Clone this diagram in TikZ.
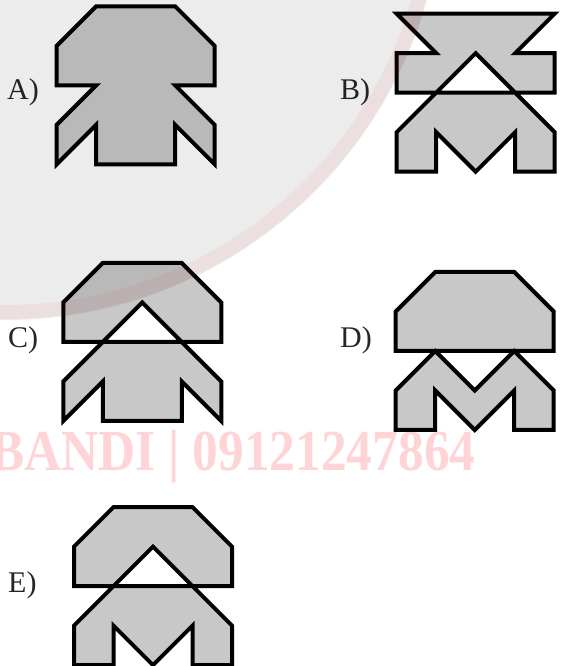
\documentclass[tikz,border=0pt]{standalone}
\usepackage{fontspec}
\setmainfont{Liberation Serif}
\usepackage{graphicx}
\usepackage{tikz}
\definecolor{piezaGris}{RGB}{200,200,200}
\definecolor{marcaRosa}{RGB}{255,212,214}
\tikzset{
  pieza/.style={draw=black, fill=piezaGris, even odd rule, line width=4pt, line join=miter},
  letra/.style={anchor=base west, inner sep=0pt, text=black!85, font=\fontsize{30}{36}\selectfont}
}

\begin{document}
\begin{tikzpicture}[x=1pt, y=1pt]
  \useasboundingbox (0,0) rectangle (563,666);
  \clip (0,0) rectangle (563,666);
  \fill[white] (0,0) rectangle (563,666);
  % marca de agua
  \node[anchor=base west, inner sep=0pt, text=marcaRosa, font=\fontsize{58}{60}\selectfont\bfseries] (marca) at (-10,195) {\scalebox{0.886}[1]{BANDI | 09121247864}};

  % A
  \draw[pieza, shift={(56.7,501.7)}, scale=39.5] (1,4) -- (3,4) -- (4,3) -- (4,2) -- (3,2) -- (4,1) -- (4,0) -- (3,1) -- (3,0) -- (1,0) -- (1,1) -- (0,0) -- (0,1) -- (1,2) -- (0,2) -- (0,3) -- cycle;
  % B
  \draw[pieza, shift={(396.7,494.3)}, scale=39.5] (0,4) -- (4,4) -- (3,3) -- (4,3) -- (4,2) -- (0,2) -- (0,3) -- (1,3) -- cycle
    (2,3) -- (4,1) -- (4,0) -- (3,0) -- (3,1) -- (2,0) -- (1,1) -- (1,0) -- (0,0) -- (0,1) -- cycle;
  % C
  \draw[pieza, shift={(63.3,245)}, scale=39.5] (1,4) -- (3,4) -- (4,3) -- (4,2) -- (0,2) -- (0,3) -- cycle
    (2,3) -- (4,1) -- (4,0) -- (3,1) -- (3,0) -- (1,0) -- (1,1) -- (0,0) -- (0,1) -- cycle;
  % D
  \draw[pieza, shift={(395.7,236)}, scale=39.5] (1,4) -- (3,4) -- (4,3) -- (4,2) -- (0,2) -- (0,3) -- cycle
    (1,2) -- (2,1) -- (3,2) -- (4,1) -- (4,0) -- (3,0) -- (3,1) -- (2,0) -- (1,1) -- (1,0) -- (0,0) -- (0,1) -- cycle;
  % E
  \draw[pieza, shift={(74,0.9)}, scale=39.5] (1,4) -- (3,4) -- (4,3) -- (4,2) -- (0,2) -- (0,3) -- cycle
    (2,3) -- (4,1) -- (4,0) -- (3,0) -- (3,1) -- (2,0) -- (1,1) -- (1,0) -- (0,0) -- (0,1) -- cycle;

  \node[letra] (opcA) at (7,566) {A)};
  \node[letra] (opcB) at (340,566) {B)};
  \node[letra] (opcC) at (8,318) {C)};
  \node[letra] (opcD) at (340,318) {D)};
  \node[letra] (opcE) at (8,73) {E)};

  % logo de fondo
  \fill[black, fill opacity=0.075] (5,784) circle[radius=438];
  \draw[red, draw opacity=0.05, line width=14pt] (5,784) circle[radius=430];
\end{tikzpicture}
\end{document}
